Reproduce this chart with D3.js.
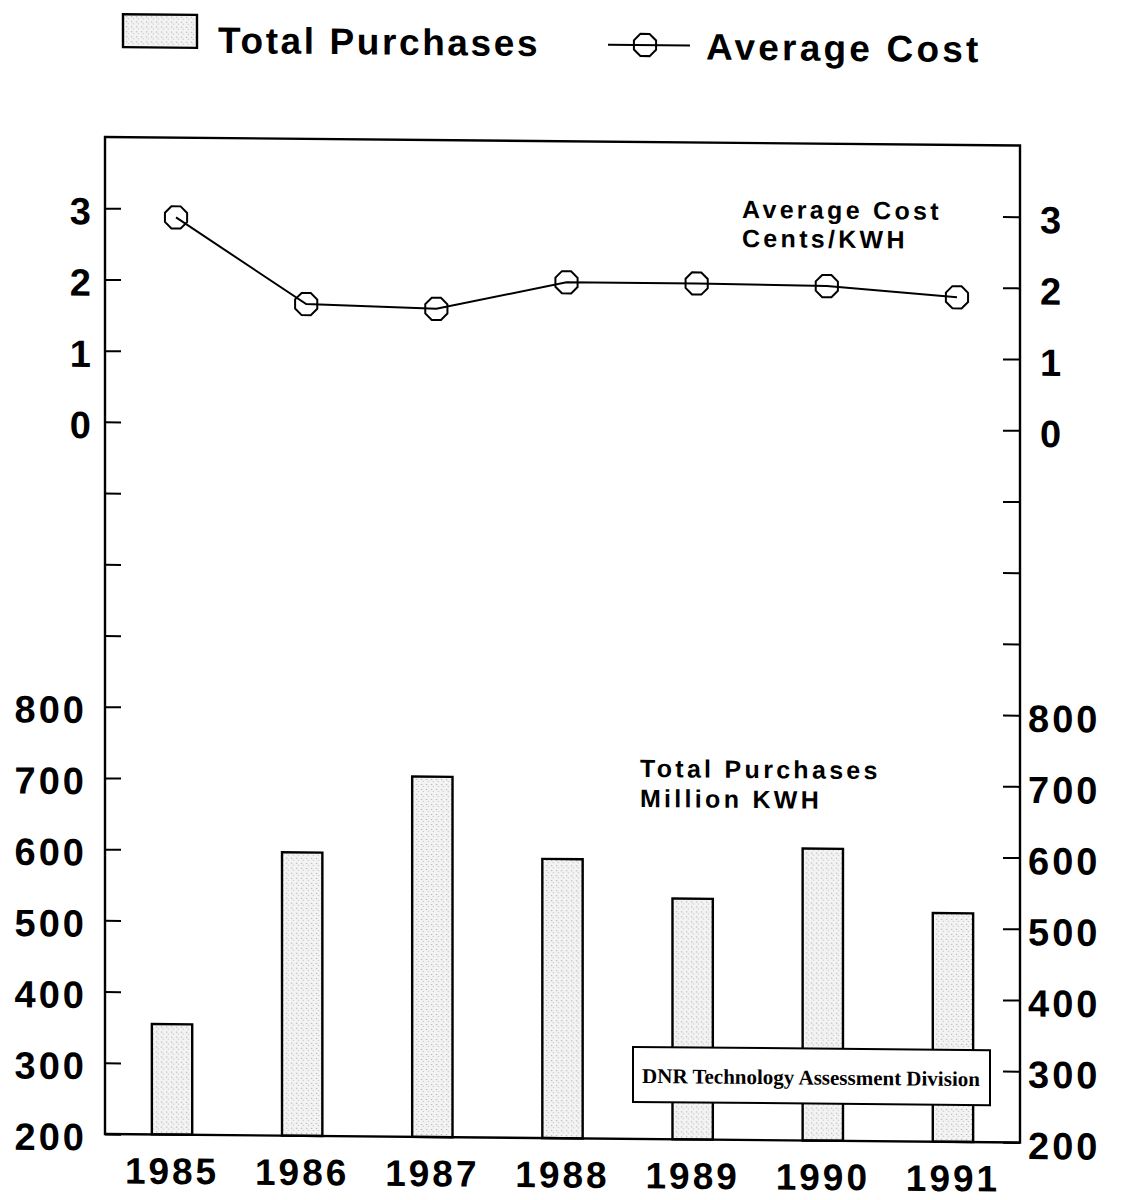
<!DOCTYPE html>
<html>
<head>
<meta charset="utf-8">
<script src="https://cdn.jsdelivr.net/npm/d3@7/dist/d3.min.js"></script>
<style>
  html, body { margin: 0; padding: 0; background: #fff; }
  svg { display: block; }
  .lab { font-family: "Liberation Sans", Arial, sans-serif; font-weight: bold; fill: #000; }
</style>
</head>
<body>
<svg id="chart" width="1121" height="1200"></svg>
<script>
// ---- data ----
const years = ["1985", "1986", "1987", "1988", "1989", "1990", "1991"];
const purchases = [355, 598, 706, 592, 538, 610, 521];     // Million KWH
const avgCost = [2.88, 1.68, 1.63, 2.02, 2.02, 2.00, 1.86]; // Cents/KWH
const purchaseTicks = [200, 300, 400, 500, 600, 700, 800];
const blankTicks = [900, 1000, 1100];
const costTicks = [0, 1, 2, 3];
const legendLabels = ["Total Purchases", "Average Cost"];
const costTitle = ["Average Cost", "Cents/KWH"];
const purchTitle = ["Total Purchases", "Million KWH"];
const sourceNote = "DNR Technology Assessment Division";

// ---- layout ----
const L = 105, R = 1020, T = 137, B = 1134;
const svg = d3.select("#chart");
const defs = svg.append("defs");
const pat = defs.append("pattern").attr("id", "stip").attr("patternUnits", "userSpaceOnUse")
  .attr("width", 5).attr("height", 5);
pat.append("rect").attr("width", 5).attr("height", 5).attr("fill", "#f3f3f3");
pat.append("rect").attr("x", 1).attr("y", 1).attr("width", 1).attr("height", 1).attr("fill", "#9a9a9a");
pat.append("rect").attr("x", 3).attr("y", 3).attr("width", 1).attr("height", 1).attr("fill", "#b5b5b5");

const g = svg.append("g").attr("transform", `translate(${L},0) skewY(0.53) translate(${-L},0)`);

const x = d3.scaleBand().domain(years).range([L, R]).paddingInner(0.69).paddingOuter(0.36);
const yP = d3.scaleLinear().domain([200, 1600]).range([B, T]);
const yC = d3.scaleLinear().domain([0, 4]).range([yP(1200), yP(1600)]);

// bars
g.selectAll("rect.bar").data(years).join("rect").attr("class", "bar")
  .attr("x", d => x(d)).attr("width", x.bandwidth())
  .attr("y", (d, i) => yP(purchases[i])).attr("height", (d, i) => B - yP(purchases[i]))
  .attr("fill", "url(#stip)").attr("stroke", "#000").attr("stroke-width", 2.4);

// frame
g.append("rect").attr("x", L).attr("y", T).attr("width", R - L).attr("height", B - T)
  .attr("fill", "none").attr("stroke", "#000").attr("stroke-width", 2.4);

function styleAxis(sel) {
  sel.select(".domain").remove();
  sel.selectAll(".tick line").attr("stroke", "#000").attr("stroke-width", 2);
  sel.selectAll(".tick text").attr("class", "lab").style("font-size", "38px")
     .style("letter-spacing", "3px").attr("dy", "0.42em");
}
const fmtP = d => (blankTicks.includes(d) ? "" : d3.format("d")(d));
const fmtC = d3.format("d");
// left axes
g.append("g").attr("transform", `translate(${L},0)`)
  .call(d3.axisLeft(yP).tickValues(purchaseTicks.concat(blankTicks)).tickFormat(fmtP)
    .tickSizeInner(-16).tickSizeOuter(0).tickPadding(18)).call(styleAxis);
g.append("g").attr("transform", `translate(${L},0)`)
  .call(d3.axisLeft(yC).tickValues(costTicks).tickFormat(fmtC).tickSizeInner(-16).tickSizeOuter(0).tickPadding(11))
  .call(styleAxis);
// right axes
g.append("g").attr("transform", `translate(${R},0)`)
  .call(d3.axisRight(yP).tickValues(purchaseTicks.concat(blankTicks)).tickFormat(fmtP)
    .tickSizeInner(-17).tickSizeOuter(0).tickPadding(8)).call(styleAxis);
g.append("g").attr("transform", `translate(${R},0)`)
  .call(d3.axisRight(yC).tickValues(costTicks).tickFormat(fmtC).tickSizeInner(-17).tickSizeOuter(0).tickPadding(20))
  .call(styleAxis);

// x axis labels
g.append("g").attr("transform", `translate(0,${B})`)
  .call(d3.axisBottom(x).tickSize(0).tickPadding(23))
  .call(s => {
    s.select(".domain").remove();
    s.selectAll(".tick text").attr("class", "lab").style("font-size", "37px").style("letter-spacing", "3px");
  });

// line + octagon markers
const cx = (d, i) => x(years[i]) + x.bandwidth() / 2 + 4;
const line = d3.line().x((d, i) => cx(d, i)).y(d => yC(d));
g.append("path").datum(avgCost).attr("d", line).attr("fill", "none")
  .attr("stroke", "#000").attr("stroke-width", 2);
const octagon = {
  draw(ctx, size) {
    const r = Math.sqrt(size / Math.PI);
    for (let k = 0; k < 8; k++) {
      const a = Math.PI / 8 + k * Math.PI / 4;
      const px = r * Math.cos(a), py = r * Math.sin(a);
      if (k === 0) ctx.moveTo(px, py); else ctx.lineTo(px, py);
    }
    ctx.closePath();
  }
};
const sym = d3.symbol().type(octagon).size(Math.PI * 12 * 12);
g.selectAll("path.mk").data(avgCost).join("path").attr("class", "mk")
  .attr("transform", (d, i) => `translate(${cx(d, i)},${yC(d)})`)
  .attr("d", sym).attr("fill", "none").attr("stroke", "#000").attr("stroke-width", 2);

// in-plot titles
const t1 = g.append("text").attr("class", "lab").attr("x", 742).attr("y", 212)
  .style("font-size", "25px").style("letter-spacing", "3.3px");
t1.selectAll("tspan").data(costTitle).join("tspan").attr("x", 742).attr("dy", (d, i) => i ? 29 : 0).text(d => d);
const t2 = g.append("text").attr("class", "lab").attr("x", 640).attr("y", 772)
  .style("font-size", "25px").style("letter-spacing", "3.3px");
t2.selectAll("tspan").data(purchTitle).join("tspan").attr("x", 640).attr("dy", (d, i) => i ? 30 : 0).text(d => d);

// source box
g.append("rect").attr("x", 633).attr("y", 1042).attr("width", 357).attr("height", 55)
  .attr("fill", "#fff").attr("stroke", "#000").attr("stroke-width", 2);
g.append("text").attr("x", 811).attr("y", 1078).attr("text-anchor", "middle")
  .style("font-family", "'Liberation Serif', 'Times New Roman', serif").style("font-weight", "bold")
  .style("font-size", "21px").text(sourceNote);

// legend
g.append("rect").attr("x", 123).attr("y", 14).attr("width", 74).attr("height", 33)
  .attr("fill", "url(#stip)").attr("stroke", "#000").attr("stroke-width", 2.4);
g.append("text").attr("class", "lab").attr("x", 218).attr("y", 52).style("font-size", "37px")
  .style("letter-spacing", "2.6px").text(legendLabels[0]);
g.append("line").attr("x1", 608).attr("x2", 690).attr("y1", 40).attr("y2", 40)
  .attr("stroke", "#000").attr("stroke-width", 2);
g.append("path").attr("transform", "translate(645,40)").attr("d", sym)
  .attr("fill", "none").attr("stroke", "#000").attr("stroke-width", 2);
g.append("text").attr("class", "lab").attr("x", 706).attr("y", 54).style("font-size", "37px")
  .style("letter-spacing", "3.2px").text(legendLabels[1]);
</script>
</body>
</html>
